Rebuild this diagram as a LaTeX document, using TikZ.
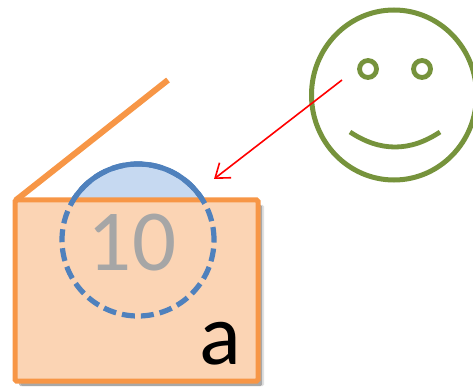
\documentclass[tikz,border=0pt]{standalone}
\usepackage{fontspec}
\setmainfont{Carlito}
\usetikzlibrary{shapes.geometric, arrows.meta, shadows}
\definecolor{boxorange}{HTML}{F79646}
\definecolor{boxfill}{HTML}{FBD4B4}
\definecolor{ringblue}{HTML}{4F81BD}
\definecolor{domefill}{HTML}{C6D9F1}
\definecolor{facegreen}{HTML}{76933C}
\definecolor{numgray}{HTML}{A6A6A6}

\begin{document}
\begin{tikzpicture}[
  x=1pt, y=-1pt,
  box/.style={draw=boxorange, fill=boxfill, line width=5pt, rounded corners=1.5pt, minimum width=243pt, minimum height=181pt, inner sep=0pt,
    general shadow={fill=black, opacity=0.12, shadow xshift=6pt, shadow yshift=-5pt},
    general shadow={fill=black, opacity=0.25, shadow xshift=4pt, shadow yshift=-5pt}},
  ring/.style={circle, minimum size=152pt, inner sep=0pt, line width=5.2pt},
  eye/.style={circle, draw=facegreen, line width=4.8pt, minimum size=17pt, inner sep=0pt},
  label/.style={font=\fontsize{87pt}{87pt}\selectfont, inner sep=0pt, anchor=base}
]

\useasboundingbox (0,0) rectangle (473,387);

% Dome behind the box
\node (dome) [ring, draw=ringblue, fill=domefill] at (138,240) {};
\node (lid) [box] at (136.5,290.5) {};
\coordinate (lidstart) at ([shift={(3,3)}]lid.north west);
\coordinate (lidend) at (168,80);
\draw [boxorange, line width=6pt] (lidstart) -- (lidend);

% Dashed ring and labels
\node (ringfront) [ring, draw=ringblue, dash pattern=on 13pt off 6pt] at (138,240) {};
\node (ten) [label, text=numgray] at (132,270) {10};
\node (a) [label, text=black] at (220.5,364) {a};

% Face
\node (face) [ellipse, draw=facegreen, line width=5pt, minimum width=165pt, minimum height=170pt, inner sep=0pt] at (394,95) {};
\node (lefteye) [eye] at (368,69) {};
\node (righteye) [eye] at (422,69) {};
\coordinate (smilel) at (350,132);
\coordinate (smiler) at (440,132);
\draw [facegreen, line width=4.8pt] (smilel) .. controls (380,152) and (410,152) .. (smiler);

% Arrow
\coordinate (look) at (342,80);
\coordinate (hit) at (214,179);
\draw [red, line width=1.6pt, -{Straight Barb[length=13pt, width=19pt, line width=1.6pt]}] (look) -- (hit);

\end{tikzpicture}
\end{document}
